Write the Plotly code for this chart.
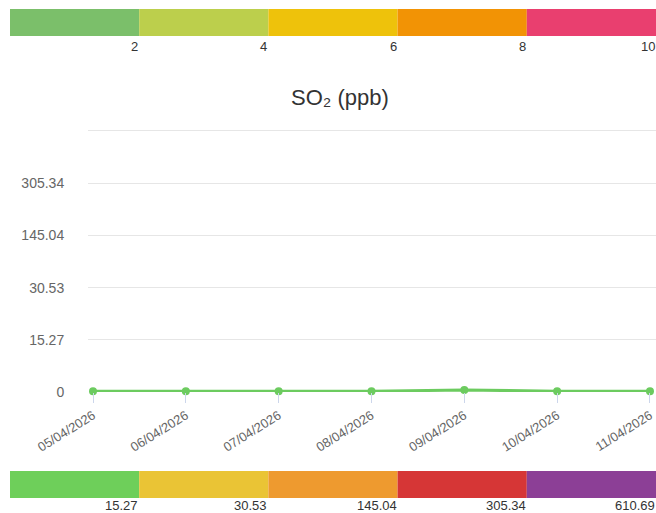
import numpy as np
import plotly.graph_objects as go

# ---- data ----
dates = ["05/04/2026", "06/04/2026", "07/04/2026", "08/04/2026",
         "09/04/2026", "10/04/2026", "11/04/2026"]
so2_ppb = [0.2, 0.2, 0.2, 0.2, 0.6, 0.2, 0.2]

# y-axis breakpoints (equally spaced on screen)
y_breaks = [0, 15.27, 30.53, 145.04, 305.34, 610.69]
y_tick_labels = ["0", "15.27", "30.53", "145.04", "305.34", ""]

# top colour scale
top_bounds = [0, 2, 4, 6, 8, 10]
top_colors = ["#7BBF6A", "#BCCF4C", "#EEC20B", "#F29305", "#E93F6F"]

# bottom colour scale (category bands)
bottom_labels = ["15.27", "30.53", "145.04", "305.34", "610.69"]
bottom_colors = ["#6ECF5A", "#EAC435", "#EE9A2F", "#D63636", "#8C3F96"]

W, H = 656, 513
ML = 10


def py(pix):  # pixel-from-top -> paper y
    return (H - pix) / H


def px(pix):  # pixel-from-left -> paper x
    return (pix - ML) / (W - ML)


idx = list(range(len(y_breaks)))
y_scaled = np.interp(so2_ppb, y_breaks, idx)

ymax = len(y_breaks) - 1
ytop = ymax + 0.06
unit = (392 - 131) / ymax
y_top_pix = 392 - ytop * unit

fig = go.Figure()

fig.add_trace(go.Scatter(
    x=dates, y=y_scaled, mode="lines+markers",
    line=dict(color="#6CCB5F", width=3),
    marker=dict(color="#6CCB5F", size=8),
    cliponaxis=False, showlegend=False, hoverinfo="skip",
    xaxis="x", yaxis="y"))

# top colour bar
top_widths = [top_bounds[i + 1] - top_bounds[i] for i in range(len(top_colors))]
fig.add_trace(go.Bar(
    orientation="h", y=[0] * len(top_colors), x=top_widths, base=top_bounds[:-1],
    marker=dict(color=top_colors, line=dict(width=0)), width=1,
    showlegend=False, hoverinfo="skip", xaxis="x2", yaxis="y2"))

# bottom colour bar
nb = len(bottom_colors)
fig.add_trace(go.Bar(
    orientation="h", y=[0] * nb, x=[1] * nb, base=list(range(nb)),
    marker=dict(color=bottom_colors, line=dict(width=0)), width=1,
    showlegend=False, hoverinfo="skip", xaxis="x3", yaxis="y3"))

annotations = []
for b in top_bounds[1:]:
    annotations.append(dict(
        x=b, y=py(46), xref="x2", yref="paper",
        text=str(b), showarrow=False, xanchor="right", yanchor="middle",
        xshift=1, font=dict(size=13, color="#333333")))
for i, lab in enumerate(bottom_labels):
    annotations.append(dict(
        x=i + 1, y=py(505.5), xref="x3", yref="paper",
        text=lab, showarrow=False, xanchor="right", yanchor="middle",
        xshift=1, font=dict(size=13, color="#333333")))

annotations.append(dict(
    x=px(340), y=py(97), xref="paper", yref="paper",
    text="SO₂ (ppb)", showarrow=False, xanchor="center", yanchor="middle",
    font=dict(size=22, color="#333333")))

fig.update_layout(
    width=W, height=H, autosize=False,
    margin=dict(l=ML, r=0, t=0, b=0, pad=0),
    paper_bgcolor="white", plot_bgcolor="white",
    font=dict(family="Liberation Sans, Arial, sans-serif", color="#666666"),
    barmode="overlay",
    annotations=annotations,
    xaxis=dict(
        domain=[px(88), 1], type="category", range=[-0.054, 6.065],
        showgrid=False, zeroline=False, showline=False,
        ticks="outside", ticklen=10, tickcolor="#ccd6eb", tickwidth=1,
        tickangle=-32, tickfont=dict(size=13, color="#666666"),
        anchor="y", fixedrange=True, automargin=False),
    yaxis=dict(
        domain=[py(392), py(y_top_pix)], range=[0, ytop],
        tickvals=idx, ticktext=y_tick_labels,
        showgrid=True, gridcolor="#e6e6e6", gridwidth=1,
        zeroline=False, showline=False,
        ticks="outside", ticklen=20, tickcolor="rgba(0,0,0,0)",
        tickfont=dict(size=14, color="#666666"), anchor="x", automargin=False),
    xaxis2=dict(domain=[0, 1], range=[0, 10], visible=False, anchor="y2", automargin=False),
    yaxis2=dict(domain=[py(36), py(9)], range=[-0.5, 0.5], visible=False, anchor="x2", automargin=False),
    xaxis3=dict(domain=[0, 1], range=[0, nb], visible=False, anchor="y3", automargin=False),
    yaxis3=dict(domain=[py(498), py(471)], range=[-0.5, 0.5], visible=False, anchor="x3", automargin=False),
)

fig.write_html(
    "out.html",
    config={"displayModeBar": False, "staticPlot": True},
    post_script="document.body.style.margin='0';document.body.style.overflow='hidden';",
)
